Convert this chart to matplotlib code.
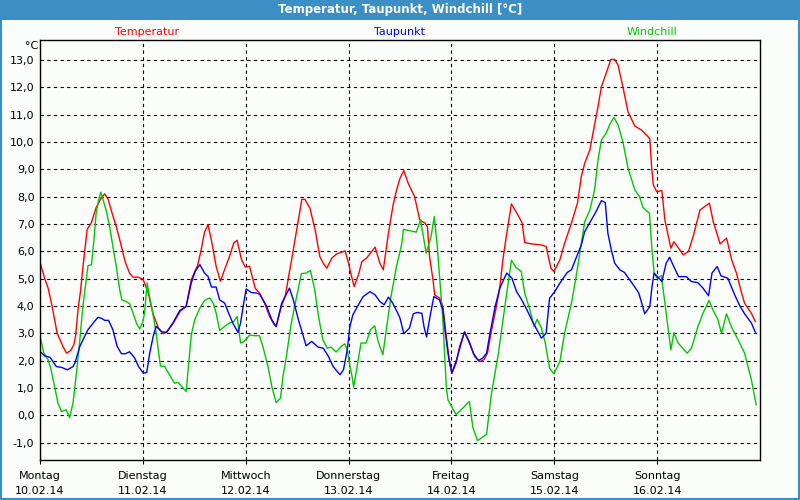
import matplotlib.pyplot as plt
from matplotlib.patches import Rectangle

# Wetterdaten 10.02.14 - 16.02.14, Zeit in Stunden ab Montag 0 Uhr
days = ['Montag', 'Dienstag', 'Mittwoch', 'Donnerstag', 'Freitag', 'Samstag', 'Sonntag']
dates = ['10.02.14', '11.02.14', '12.02.14', '13.02.14', '14.02.14', '15.02.14', '16.02.14']

temp_hours = [0.0, 1.1, 1.9, 2.8, 3.4, 4.0, 5.4, 6.2, 7.2, 7.9, 8.3, 8.9, 9.5, 10.0, 11.0, 12.0,
              13.1, 14.3, 15.1, 15.9, 16.8, 17.8, 18.8, 19.9, 20.9, 21.7, 22.9, 24.0, 24.6, 25.3,
              26.4, 27.6, 28.8, 29.6, 31.1, 32.7, 34.1, 35.3, 36.8, 37.6, 38.4, 39.2, 40.0, 41.1,
              42.1, 43.0, 44.2, 45.2, 46.0, 47.0, 47.9, 48.9, 49.7, 50.2, 51.2, 52.4, 53.6, 54.7,
              55.1, 56.3, 57.2, 59.1, 61.1, 61.8, 63.0, 64.2, 65.3, 66.1, 66.9, 68.1, 69.2, 71.2,
              71.9, 72.5, 73.3, 74.3, 75.1, 76.2, 78.2, 79.3, 80.1, 81.3, 82.4, 83.2, 84.0, 84.9,
              85.9, 87.4, 88.6, 89.8, 90.4, 90.9, 91.7, 92.1, 93.3, 94.0, 94.8, 95.6, 96.1, 97.1,
              97.9, 99.1, 100.3, 101.4, 102.6, 103.6, 104.4, 105.3, 106.5, 107.3, 108.0, 108.8,
              110.0, 110.8, 111.7, 112.5, 113.1, 114.6, 117.0, 118.1, 119.2, 119.9, 121.3, 122.4,
              124.0, 125.4, 126.3, 127.1, 128.3, 129.4, 130.2, 131.0, 132.1, 133.2, 134.1, 134.9,
              136.0, 137.2, 138.8, 140.3, 141.9, 142.3, 142.7, 143.1, 143.9, 145.1, 145.8, 147.2,
              147.9, 150.1, 151.3, 152.4, 154.0, 156.2, 157.1, 158.7, 160.2, 161.4, 162.5, 163.7,
              164.4, 166.0, 166.9]
temp_values = [5.6, 5.0, 4.65, 4.0, 3.5, 3.0, 2.5, 2.27, 2.37, 2.58, 2.9, 3.9, 4.6, 5.4, 6.8, 7.05,
               7.6, 7.95, 8.1, 7.9, 7.4, 6.9, 6.3, 5.6, 5.2, 5.05, 5.05, 4.98, 4.75, 4.45,
               3.7, 3.2, 2.98, 3.05, 3.37, 3.8, 3.98, 4.96, 5.5, 6.05, 6.7, 6.97, 6.4, 5.45,
               4.9, 5.3, 5.8, 6.3, 6.4, 5.7, 5.42, 5.45, 4.96, 4.65, 4.47, 4.1, 3.6, 3.3,
               3.25, 3.98, 4.34, 6.05, 7.9, 7.9, 7.57, 6.78, 5.8, 5.56, 5.38, 5.75, 5.9, 6.01,
               5.62, 5.2, 4.71, 5.13, 5.62, 5.75, 6.15, 5.56, 5.32, 6.66, 7.7, 8.24, 8.67, 8.95,
               8.49, 8.0, 7.15, 7.03, 6.9, 5.8, 4.95, 4.4, 4.28, 3.98, 2.88, 1.9, 1.54, 1.9,
               2.51, 3.06, 2.64, 2.15, 1.96, 2.03, 2.27, 3.06, 3.98, 4.71, 5.68, 6.54,
               7.73, 7.51, 7.27, 7.03, 6.32, 6.27, 6.23, 6.17, 5.38, 5.26, 5.68, 6.29,
               7.03, 7.76, 8.73, 9.22, 9.71, 10.62, 11.29, 12.02, 12.51, 13.02, 13.02, 12.8,
               12.02, 11.1, 10.58, 10.44, 10.19, 10.1, 9.1, 8.43, 8.18, 8.22, 7.15, 6.11,
               6.35, 5.87, 5.99, 6.54, 7.51, 7.76, 7.08, 6.27, 6.48, 5.68, 5.2, 4.47,
               4.1, 3.73, 3.43]

dew_hours = [0.2, 1.1, 2.3, 3.0, 3.8, 5.0, 6.4, 7.7, 8.2, 9.3, 10.4, 11.2, 12.4, 13.5, 14.3, 15.1,
             16.0, 17.0, 18.0, 19.0, 19.9, 20.9, 22.1, 23.0, 24.1, 24.9, 25.6, 26.4, 27.1, 28.3,
             29.5, 31.0, 32.6, 34.1, 35.3, 36.2, 37.3, 38.4, 39.2, 40.0, 41.1, 41.9, 43.1, 44.0,
             45.0, 46.2, 46.8, 47.4, 48.1, 49.3, 50.5, 51.3, 52.9, 54.1, 55.1, 56.4, 58.2, 59.1,
             60.3, 62.1, 63.4, 64.9, 66.1, 67.3, 68.4, 70.0, 70.8, 71.7, 72.3, 73.0, 74.3, 75.4,
             77.0, 78.2, 79.3, 80.3, 81.3, 82.3, 83.4, 84.0, 84.9, 86.2, 87.1, 88.0, 89.1, 89.6,
             90.2, 91.0, 91.9, 93.2, 94.0, 94.5, 95.3, 96.1, 97.2, 99.0, 99.9, 101.1, 102.3, 103.3,
             104.2, 105.0, 106.2, 107.3, 108.9, 110.1, 111.2, 112.4, 113.6, 115.1, 117.0, 118.1,
             118.9, 120.1, 121.3, 123.0, 124.0, 125.1, 126.3, 127.1, 128.3, 129.6, 131.0, 131.9,
             132.5, 133.3, 134.1, 135.3, 136.4, 137.6, 138.8, 139.7, 140.3, 141.1, 142.3, 142.8,
             143.3, 144.2, 145.1, 146.1, 146.9, 147.7, 149.0, 150.8, 152.0, 153.5, 154.7, 156.0,
             156.8, 158.0, 158.9, 160.5, 162.1, 163.3, 164.4, 166.0, 166.9]
dew_values = [2.3, 2.17, 2.12, 1.97, 1.78, 1.75, 1.66, 1.78, 1.93, 2.52, 2.88, 3.13, 3.37, 3.58, 3.55, 3.47,
              3.47, 3.13, 2.52, 2.25, 2.25, 2.32, 2.09, 1.78, 1.54, 1.56, 2.27, 2.88, 3.25, 3.06,
              3.03, 3.37, 3.83, 3.98, 4.84, 5.26, 5.51, 5.2, 5.08, 4.69, 4.69, 4.22, 4.1, 3.74,
              3.37, 3.03, 3.37, 3.98, 4.62, 4.49, 4.47, 4.42, 3.98, 3.49, 3.24, 4.1, 4.65, 4.22,
              3.49, 2.54, 2.7, 2.49, 2.45, 2.15, 1.78, 1.48, 1.66, 2.39, 3.24, 3.67, 4.04, 4.34,
              4.52, 4.4, 4.16, 4.04, 4.32, 4.1, 3.76, 3.55, 2.98, 3.19, 3.71, 3.76, 3.73, 3.24,
              2.86, 3.61, 4.34, 4.22, 3.86, 3.12, 2.15, 1.54, 2.03, 3.04, 2.76, 2.27, 2.0, 2.09,
              2.27, 3.0, 3.98, 4.65, 5.2, 5.02, 4.52, 4.22, 3.86, 3.37, 2.82, 3.0,
              4.28, 4.52, 4.83, 5.22, 5.32, 5.75, 6.23, 6.72, 7.05, 7.41, 7.85, 7.78,
              6.66, 6.05, 5.56, 5.32, 5.22, 4.95, 4.69, 4.47, 4.16, 3.71, 3.98, 4.71,
              5.2, 5.05, 4.89, 5.56, 5.78, 5.5, 5.07, 5.07, 4.89, 4.85, 4.65, 4.37,
              5.2, 5.44, 5.1, 5.01, 4.4, 4.0, 3.71, 3.37, 3.04]

wind_hours = [0.2, 0.9, 1.9, 2.6, 3.4, 4.2, 5.0, 6.1, 6.9, 7.7, 8.5, 9.3, 10.0, 10.8, 11.2, 12.0,
              12.6, 13.1, 13.7, 14.2, 14.7, 15.5, 16.3, 17.0, 17.8, 18.6, 19.1, 20.1, 20.9, 21.7,
              22.5, 23.3, 24.0, 24.4, 25.0, 25.4, 26.0, 26.6, 27.1, 27.7, 28.1, 29.1, 30.2, 31.4,
              32.2, 34.1, 35.3, 36.1, 37.3, 38.4, 39.6, 40.4, 41.1, 41.9, 43.1, 44.2, 45.2, 46.0,
              46.8, 47.7, 48.9, 50.1, 51.2, 52.0, 53.2, 54.1, 55.1, 56.1, 56.7, 57.5, 58.5, 59.4,
              60.2, 61.0, 62.1, 63.1, 64.1, 65.0, 66.0, 67.0, 67.9, 69.1, 70.3, 71.1, 71.7, 72.2,
              72.8, 73.2, 74.0, 74.9, 76.1, 77.1, 78.1, 78.9, 80.0, 80.8, 81.9, 83.1, 84.4, 84.8,
              87.8, 88.8, 90.1, 91.2, 92.0, 92.7, 93.3, 94.0, 94.8, 95.2, 97.1, 100.2, 101.0, 102.1,
              104.2, 105.3, 106.9, 108.4, 110.0, 111.1, 112.3, 113.1, 114.3, 115.3, 116.0, 117.0,
              117.9, 118.9, 119.9, 121.3, 122.4, 124.0, 125.1, 126.3, 127.1, 128.3, 129.4, 130.2,
              131.0, 132.1, 132.9, 133.9, 134.9, 136.0, 137.2, 138.8, 139.9, 140.7, 142.2, 142.8,
              143.3, 144.0, 145.0, 145.8, 146.4, 147.2, 147.9, 148.9, 151.0, 152.0, 153.5, 154.7,
              156.1, 157.0, 158.2, 159.0, 160.2, 161.3, 162.9, 164.4, 166.0, 167.1]
wind_values = [2.76, 2.27, 2.03, 1.66, 1.05, 0.44, 0.13, 0.2, -0.09, 0.44, 1.54, 2.76, 3.98, 4.96, 5.47, 5.51,
               6.42, 7.4, 7.89, 8.16, 7.89, 7.46, 6.85, 6.18, 5.45, 4.59, 4.22, 4.16, 4.08, 3.74,
               3.37, 3.15, 3.43, 3.74, 4.84, 4.47, 3.98, 3.49, 3.0, 2.27, 1.8, 1.78, 1.48, 1.17,
               1.2, 0.87, 2.94, 3.49, 3.92, 4.2, 4.29, 4.1, 3.74, 3.1, 3.25, 3.37, 3.43, 3.61,
               2.64, 2.7, 2.93, 2.91, 2.91, 2.52, 1.78, 1.05, 0.46, 0.62, 1.42, 2.15, 3.25, 3.98,
               4.59, 5.18, 5.2, 5.3, 4.59, 3.61, 2.76, 2.45, 2.49, 2.31, 2.52, 2.61, 2.39, 1.9,
               1.42, 1.03, 1.78, 2.64, 2.64, 3.13, 3.27, 2.7, 2.21, 3.13, 4.35, 5.38, 6.26, 6.8,
               6.7, 7.15, 5.93, 6.5, 7.27, 6.17, 4.95, 3.49, 1.05, 0.56, 0.02, 0.5, -0.45, -0.93,
               -0.7, 0.75, 2.2, 3.9, 5.67, 5.4, 5.26, 4.47, 3.86, 3.24, 3.51, 3.19,
               2.64, 1.72, 1.51, 1.96, 3.0, 4.1, 5.07, 6.29, 7.08, 7.51, 8.24, 9.34,
               10.07, 10.32, 10.62, 10.9, 10.62, 10.01, 9.04, 8.24, 8.0, 7.6, 7.39, 6.05,
               5.2, 5.01, 5.1, 4.1, 3.37, 2.39, 3.02, 2.64, 2.27, 2.45, 3.24, 3.73,
               4.2, 3.86, 3.49, 3.0, 3.71, 3.24, 2.76, 2.27, 1.29, 0.38]

bar_blue = '#3c8fc4'

fig = plt.figure(figsize=(8, 5), dpi=100, facecolor='#fbfdfb')
ax = fig.add_axes([0.05, 0.08, 0.9, 0.84], facecolor='#fbfdfb')

ax.plot(temp_hours, temp_values, color='#ff0000', linewidth=1)
ax.plot(wind_hours, wind_values, color='#00c800', linewidth=1)
ax.plot(dew_hours, dew_values, color='#0000ff', linewidth=1)

ax.set_xlim(0, 168)
ax.set_ylim(-1.64, 13.73)
ax.set_xticks([24 * i for i in range(7)])
ax.set_xticklabels([d + '\n' + t for d, t in zip(days, dates)], fontsize=8, linespacing=1.6)
yticks = list(range(-1, 14))
ax.set_yticks(yticks)
ax.set_yticklabels([f'{v:.1f}'.replace('.', ',') for v in yticks], fontsize=8)
ax.tick_params(axis='x', length=3, pad=5, color='black')
ax.tick_params(axis='y', length=0, pad=4)
ax.grid(True, color='black', linestyle=(0, (3, 3)), linewidth=0.8)
for s in ax.spines.values():
    s.set_linewidth(1)

# Titelleiste und Rahmen
fig.patches.append(Rectangle((0, 0.96), 1, 0.04, transform=fig.transFigure,
                             facecolor=bar_blue, edgecolor='none', zorder=0))
fig.patches.append(Rectangle((0.001, 0.002), 0.998, 0.997, transform=fig.transFigure,
                             facecolor='none', edgecolor=bar_blue, linewidth=1.5))
fig.text(0.5, 0.98, 'Temperatur, Taupunkt, Windchill [°C]', color='white',
         fontsize=8.5, fontweight='bold', ha='center', va='center')

fig.text(147 / 800, 1 - 32 / 500, 'Temperatur', color='#ff0000', fontsize=8, ha='center', va='center')
fig.text(399 / 800, 1 - 32 / 500, 'Taupunkt', color='#0000ff', fontsize=8, ha='center', va='center')
fig.text(652 / 800, 1 - 32 / 500, 'Windchill', color='#00c800', fontsize=8, ha='center', va='center')
fig.text(38 / 800, 1 - 46 / 500, '°C', fontsize=8, ha='right', va='center')

plt.savefig('out.png', dpi=100, facecolor=fig.get_facecolor())
